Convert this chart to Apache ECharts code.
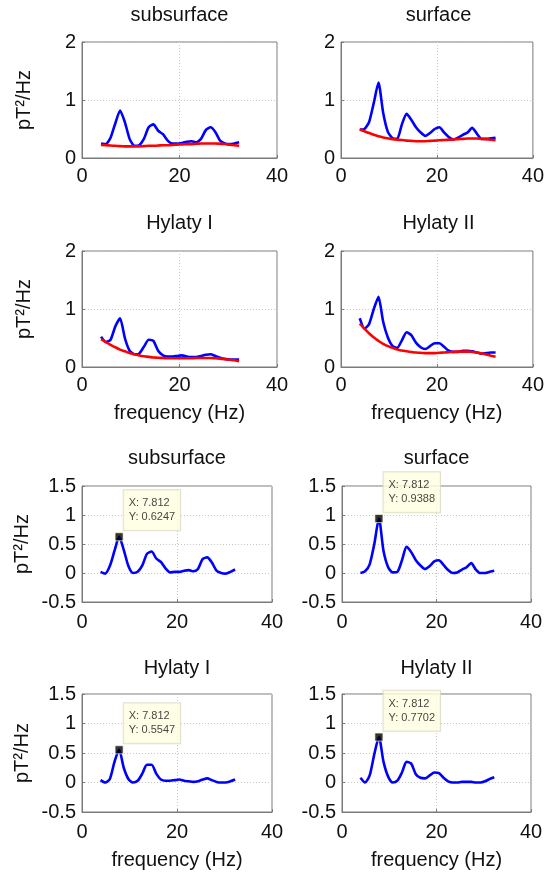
<!DOCTYPE html>
<html>
<head>
<meta charset="utf-8">
<script src="https://cdn.jsdelivr.net/npm/echarts@6/dist/echarts.min.js"></script>
<style>
html,body{margin:0;padding:0;background:#fff;}
#chart{width:547px;height:875px;}
</style>
</head>
<body>
<div id="chart"></div>
<script>
// ---- DATA ----
var freq = [3.906, 4.883, 5.859, 6.836, 7.812, 8.789, 9.766, 10.742, 11.719, 12.695,
            13.672, 14.648, 15.625, 16.602, 17.578, 18.555, 19.531, 20.508, 21.484, 22.461,
            23.438, 24.414, 25.391, 26.367, 27.344, 28.320, 29.297, 30.273, 31.250, 32.227];

var titles = ['subsurface', 'surface', 'Hylaty I', 'Hylaty II'];

// top row: measured spectra (blue) and background fit (red)
var specSubsurface = [0.25,0.24,0.35,0.60,0.82,0.62,0.33,0.21,0.22,0.33,0.53,0.58,0.47,0.41,0.30,0.25,0.25,0.26,0.28,0.29,0.27,0.33,0.48,0.53,0.45,0.30,0.25,0.24,0.25,0.27];
var specSurface    = [0.49,0.50,0.62,0.95,1.30,0.78,0.45,0.34,0.33,0.58,0.76,0.66,0.53,0.44,0.38,0.43,0.50,0.53,0.44,0.36,0.32,0.35,0.40,0.44,0.52,0.42,0.33,0.33,0.34,0.35];
var specHylatyI    = [0.52,0.43,0.47,0.70,0.84,0.50,0.28,0.22,0.23,0.35,0.47,0.45,0.28,0.20,0.18,0.18,0.19,0.20,0.18,0.17,0.17,0.19,0.21,0.22,0.19,0.16,0.14,0.13,0.13,0.13];
var specHylatyII   = [0.84,0.66,0.74,1.00,1.21,0.78,0.51,0.36,0.33,0.46,0.60,0.55,0.42,0.34,0.31,0.36,0.41,0.41,0.35,0.28,0.26,0.26,0.28,0.28,0.27,0.25,0.23,0.24,0.25,0.25];

var fitSubsurface = [0.225,0.22,0.215,0.21,0.205,0.20,0.20,0.20,0.20,0.205,0.21,0.21,0.215,0.22,0.22,0.225,0.23,0.235,0.24,0.24,0.245,0.25,0.25,0.25,0.25,0.245,0.24,0.23,0.22,0.21];
var fitSurface    = [0.49,0.46,0.43,0.40,0.375,0.355,0.34,0.325,0.315,0.31,0.30,0.295,0.29,0.29,0.29,0.295,0.30,0.305,0.31,0.315,0.32,0.325,0.33,0.335,0.335,0.335,0.33,0.325,0.315,0.305];
var fitHylatyI    = [0.48,0.43,0.38,0.34,0.30,0.27,0.24,0.22,0.20,0.185,0.175,0.165,0.16,0.155,0.15,0.15,0.15,0.15,0.15,0.15,0.155,0.155,0.155,0.155,0.15,0.145,0.135,0.125,0.115,0.10];
var fitHylatyII   = [0.75,0.66,0.58,0.51,0.45,0.40,0.36,0.33,0.30,0.285,0.27,0.26,0.25,0.245,0.24,0.24,0.24,0.245,0.25,0.255,0.26,0.265,0.265,0.265,0.26,0.25,0.235,0.215,0.195,0.175];

// bottom row: spectra with background removed
var resSubsurface = [0.02,-0.01,0.12,0.38,0.6247,0.40,0.12,0.00,0.02,0.13,0.33,0.37,0.25,0.19,0.08,0.01,0.02,0.02,0.04,0.05,0.03,0.07,0.24,0.27,0.18,0.04,0.00,-0.01,0.02,0.06];
var resSurface    = [0.00,0.03,0.15,0.50,0.9388,0.38,0.10,0.01,0.02,0.22,0.45,0.36,0.22,0.13,0.07,0.12,0.20,0.22,0.14,0.05,0.00,0.01,0.06,0.10,0.17,0.06,0.00,0.00,0.02,0.04];
var resHylatyI    = [0.04,0.00,0.06,0.35,0.5547,0.25,0.06,0.00,0.03,0.15,0.30,0.30,0.15,0.05,0.03,0.03,0.04,0.05,0.03,0.02,0.01,0.02,0.05,0.07,0.04,0.01,0.00,0.00,0.02,0.05];
var resHylatyII   = [0.08,0.00,0.12,0.48,0.7702,0.35,0.10,0.00,0.03,0.17,0.35,0.32,0.14,0.08,0.07,0.12,0.17,0.16,0.08,0.02,0.00,0.00,0.01,0.01,0.01,0.00,0.00,0.02,0.06,0.09];

var tipX = [7.812, 7.812, 7.812, 7.812];
var tipY = [0.6247, 0.9388, 0.5547, 0.7702];

var xTicks = [0, 40, 20];          // min, max, interval
var yTicksTop = [0, 2, 1];
var yTicksBottom = [-0.5, 1.5, 0.5];

var specs = [specSubsurface, specSurface, specHylatyI, specHylatyII];
var fits = [fitSubsurface, fitSurface, fitHylatyI, fitHylatyII];
var residuals = [resSubsurface, resSurface, resHylatyI, resHylatyII];

// ---- LAYOUT ----
var FONT = 'Liberation Sans, Arial, Helvetica, sans-serif';
var FS = 20;
var grids = [
  {left: 82,  top: 42,  width: 195, height: 116},
  {left: 341, top: 42,  width: 195, height: 116},
  {left: 82,  top: 251, width: 195, height: 116},
  {left: 341, top: 251, width: 195, height: 116},
  {left: 82,  top: 486, width: 190, height: 116},
  {left: 342, top: 486, width: 189, height: 116},
  {left: 82,  top: 694, width: 190, height: 118},
  {left: 342, top: 694, width: 189, height: 118}
];
var titleTops = [5, 5, 213, 213, 448, 448, 658, 658];

function pairs(ys) {
  return freq.map(function (f, i) { return [f, ys[i]]; });
}

var option = {
  animation: false,
  backgroundColor: '#fff',
  title: [],
  grid: [],
  xAxis: [],
  yAxis: [],
  series: []
};

grids.forEach(function (g, k) {
  var bottomRow = k >= 4;
  var idx = k % 4;
  option.grid.push({
    left: g.left, top: g.top, width: g.width, height: g.height,
    show: true, borderColor: '#7a7a7a', borderWidth: 1, backgroundColor: '#fff',
    containLabel: false
  });
  option.title.push({
    text: titles[idx],
    left: g.left + g.width / 2, top: titleTops[k],
    textAlign: 'center', padding: 0,
    textStyle: {fontFamily: FONT, fontSize: FS, fontWeight: 'normal', color: '#111'}
  });
  var hasXName = (idx >= 2);
  option.xAxis.push({
    type: 'value', gridIndex: k,
    min: xTicks[0], max: xTicks[1], interval: xTicks[2],
    name: hasXName ? 'frequency (Hz)' : '',
    nameLocation: 'middle', nameGap: bottomRow ? 38 : 36,
    nameTextStyle: {fontFamily: FONT, fontSize: FS, color: '#111'},
    axisLine: {show: true, onZero: false, lineStyle: {color: '#7a7a7a', width: 1}},
    axisTick: {show: true, inside: true, length: 3, lineStyle: {color: '#7a7a7a'}},
    axisLabel: {fontFamily: FONT, fontSize: FS, color: '#111', margin: bottomRow ? 10 : 8},
    splitLine: {show: true, lineStyle: {color: '#c8c8c8', type: [1, 2], width: 1}}
  });
  var yt = bottomRow ? yTicksBottom : yTicksTop;
  option.yAxis.push({
    type: 'value', gridIndex: k,
    min: yt[0], max: yt[1], interval: yt[2],
    name: (idx % 2 === 0) ? 'pT\u00B2/Hz' : '',
    nameLocation: 'middle', nameGap: bottomRow ? 50 : 48,
    nameTextStyle: {fontFamily: FONT, fontSize: FS, color: '#111'},
    axisLine: {show: true, onZero: false, lineStyle: {color: '#7a7a7a', width: 1}},
    axisTick: {show: true, inside: true, length: 3, lineStyle: {color: '#7a7a7a'}},
    axisLabel: {fontFamily: FONT, fontSize: FS, color: '#111', margin: 6},
    splitLine: {show: true, lineStyle: {color: '#c8c8c8', type: [1, 2], width: 1}}
  });

  if (!bottomRow) {
    option.series.push({
      type: 'line', xAxisIndex: k, yAxisIndex: k,
      data: pairs(specs[idx]), showSymbol: false, smooth: 0.2,
      lineStyle: {color: '#0000ff', width: 2.6}, z: 3
    });
    option.series.push({
      type: 'line', xAxisIndex: k, yAxisIndex: k,
      data: pairs(fits[idx]), showSymbol: false, smooth: true,
      lineStyle: {color: '#ff0000', width: 2.6}, z: 4
    });
  } else {
    option.series.push({
      type: 'line', xAxisIndex: k, yAxisIndex: k,
      data: pairs(residuals[idx]), showSymbol: false, smooth: 0.25,
      lineStyle: {color: '#0000ff', width: 2.6}, z: 3
    });
    option.series.push({
      type: 'scatter', xAxisIndex: k, yAxisIndex: k,
      data: [[tipX[idx], tipY[idx]]],
      symbol: 'rect', symbolSize: 8,
      itemStyle: {color: '#000', borderColor: '#ffffd8', borderWidth: 0.8},
      z: 10,
      label: {
        show: true,
        position: [9, -2],
        align: 'left', verticalAlign: 'bottom',
        formatter: function (p) {
          return 'X: ' + p.value[0].toFixed(3) + '\nY: ' + p.value[1].toFixed(4);
        },
        fontFamily: FONT, fontSize: 11, color: '#111', lineHeight: 14,
        backgroundColor: '#ffffe2', borderColor: '#d8d8c0', borderWidth: 1,
        padding: [6, 5, 6, 5]
      }
    });
  }
});

var chart = echarts.init(document.getElementById('chart'), null, {renderer: 'canvas'});
chart.setOption(option);
</script>
</body>
</html>
